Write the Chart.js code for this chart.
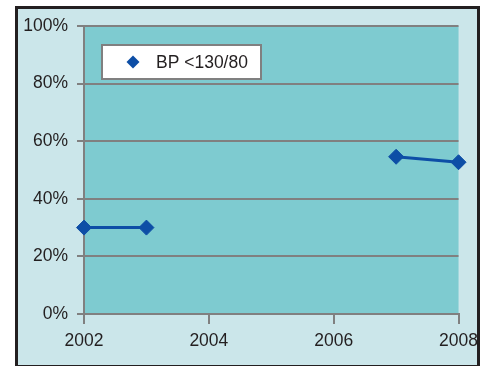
<!DOCTYPE html>
<html>
<head>
<meta charset="utf-8">
<script src="https://cdn.jsdelivr.net/npm/chart.js@4"></script>
<style>
  html, body { margin: 0; padding: 0; background: #fff; }
  #frame {
    position: absolute; left: 15px; top: 6px; width: 465px; height: 362px;
    box-sizing: border-box; border: 3px solid #231f20; background: #cbe6ea;
  }
  #bpChart { position: absolute; left: 0; top: 0; }
</style>
</head>
<body>
<div id="frame"></div>
<canvas id="bpChart" width="485" height="366"></canvas>
<script>
// values (no data for 2004-2006)
const years = [2002, 2003, 2004, 2005, 2006, 2007, 2008];
const bpUnder130 = [30, 30, null, null, null, 54.6, 52.7];
const seriesLabel = "BP <130/80";
const yTicks = [0, 20, 40, 60, 80, 100];
const xTicks = [2002, 2004, 2006, 2008];

const lineBlue = "#0d4ea6";
const gridGray = "#808080";
const textDark = "#231f20";
const fontFamily = "'Liberation Sans', Arial, sans-serif";
const fontSize = 17.5;

// teal plot area
const plotBg = {
  id: "plotBg",
  beforeDraw(chart) {
    const { ctx, chartArea: a } = chart;
    ctx.save();
    ctx.fillStyle = "#7ecbd0";
    ctx.fillRect(a.left, a.top, a.right - a.left, a.bottom - a.top);
    ctx.restore();
  }
};

// legend box inside the plot, top-left
const boxLegend = {
  id: "boxLegend",
  afterDraw(chart) {
    const ctx = chart.ctx;
    const ds = chart.data.datasets[0];
    ctx.save();
    ctx.fillStyle = "#ffffff";
    ctx.fillRect(102, 45, 159, 34);
    ctx.strokeStyle = gridGray;
    ctx.lineWidth = 2;
    ctx.strokeRect(102, 45, 159, 34);

    const cx = 133, cy = 62, r = 6.5;
    ctx.beginPath();
    ctx.moveTo(cx - r, cy);
    ctx.lineTo(cx, cy - r);
    ctx.lineTo(cx + r, cy);
    ctx.lineTo(cx, cy + r);
    ctx.closePath();
    ctx.fillStyle = lineBlue;
    ctx.fill();

    ctx.fillStyle = textDark;
    ctx.font = fontSize + "px " + fontFamily;
    ctx.textBaseline = "middle";
    ctx.textAlign = "left";
    ctx.fillText(ds.label, 156, cy + 1);
    ctx.restore();
  }
};

new Chart(document.getElementById("bpChart").getContext("2d"), {
  type: "line",
  data: {
    datasets: [{
      label: seriesLabel,
      data: years.map((x, i) => ({ x: x, y: bpUnder130[i] })),
      borderColor: lineBlue,
      backgroundColor: lineBlue,
      borderWidth: 3,
      pointStyle: "rectRot",
      pointRadius: 7.5,
      pointBorderWidth: 1,
      pointBackgroundColor: lineBlue,
      pointBorderColor: lineBlue,
      spanGaps: false,
      clip: false,
      tension: 0
    }]
  },
  options: {
    responsive: false,
    animation: false,
    layout: { padding: { left: 0, top: 26, right: 26, bottom: 0 } },
    plugins: {
      legend: { display: false },
      tooltip: { enabled: false }
    },
    scales: {
      x: {
        type: "linear",
        min: 2002,
        max: 2008,
        afterFit: s => { s.height = 52; },
        afterBuildTicks: s => { s.ticks = xTicks.map(v => ({ value: v })); },
        ticks: {
          padding: 7,
          color: textDark,
          font: { family: fontFamily, size: fontSize },
          callback: v => String(v)
        },
        grid: {
          drawOnChartArea: false,
          drawTicks: true,
          tickLength: 10,
          color: gridGray,
          lineWidth: 2
        },
        border: { display: true, color: gridGray, width: 2 }
      },
      y: {
        min: 0,
        max: 100,
        afterFit: s => { s.width = 84; },
        afterBuildTicks: s => { s.ticks = yTicks.map(v => ({ value: v })); },
        ticks: {
          padding: 9,
          color: textDark,
          font: { family: fontFamily, size: fontSize },
          callback: v => v + "%"
        },
        grid: {
          drawTicks: true,
          tickLength: 7,
          color: gridGray,
          lineWidth: 2
        },
        border: { display: true, color: gridGray, width: 2 }
      }
    }
  },
  plugins: [plotBg, boxLegend]
});
</script>
</body>
</html>
